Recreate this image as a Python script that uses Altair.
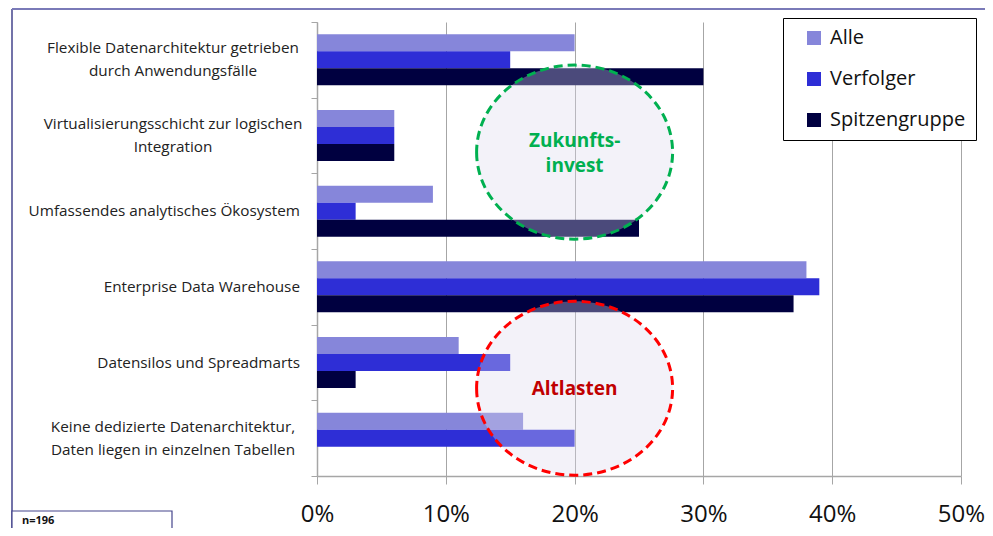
import altair as alt
import pandas as pd

# ---------------- data ----------------
categories = [
    "Flexible Datenarchitektur getrieben\ndurch Anwendungsfälle",
    "Virtualisierungsschicht zur logischen\nIntegration",
    "Umfassendes analytisches Ökosystem",
    "Enterprise Data Warehouse",
    "Datensilos und Spreadmarts",
    "Keine dedizierte Datenarchitektur,\nDaten liegen in einzelnen Tabellen",
]
series = ["Alle", "Verfolger", "Spitzengruppe"]
alle = [0.20, 0.06, 0.09, 0.38, 0.11, 0.16]
verfolger = [0.15, 0.06, 0.03, 0.39, 0.15, 0.20]
spitzengruppe = [0.30, 0.06, 0.25, 0.37, 0.03, 0.00]
colors = ["#8686da", "#2e2ed6", "#000040"]
x_ticks = [0, 0.1, 0.2, 0.3, 0.4, 0.5]

annot_labels = ["Zukunfts-\ninvest", "Altlasten"]
annot_x = [0.20, 0.20]
annot_row = [1.72, 4.84]          # ellipse centre, in category rows from the top
annot_text_row = [1.57, 4.85]     # first text line, in category rows from the top
annot_stroke = ["#00b050", "#ff0000"]
annot_text = ["#00b050", "#c00000"]
n_label = "n=196"

rows = []
for s, vals in zip(series, [alle, verfolger, spitzengruppe]):
    for c, v in zip(categories, vals):
        rows.append({"category": c, "series": s, "value": v})
df = pd.DataFrame(rows)
cat_df = pd.DataFrame({"category": categories})
ann = pd.DataFrame({"label": annot_labels, "x": annot_x, "row": annot_row,
                    "trow": annot_text_row, "stroke": annot_stroke, "tcol": annot_text})
dummy = pd.DataFrame({"a": [0]})

W, H = 644, 454
FONT = "Open Sans"
GRAY = "#a6a6a6"
FRAME = "#45458c"
TWO_LINE = "indexof(datum.category, '\\n') >= 0"

x_enc = alt.X(
    "value:Q",
    title=None,
    scale=alt.Scale(domain=[0, 0.5], nice=False),
    axis=alt.Axis(values=x_ticks, format="%", grid=True, gridColor=GRAY, gridWidth=1,
                  domainColor=GRAY, domainWidth=1.5, tickColor=GRAY, tickSize=8,
                  labelFont=FONT, labelFontSize=24, labelColor="#111",
                  labelPadding=18, labelFlush=False),
)

bars = alt.Chart(df).mark_bar(opacity=1).encode(
    x=x_enc,
    y=alt.Y("category:N", sort=categories, title=None,
            scale=alt.Scale(domain=categories, paddingInner=0, paddingOuter=0),
            axis=alt.Axis(labels=False, tickSize=6, tickColor=GRAY,
                          domainColor=GRAY, domainWidth=1.5, tickBand="extent", grid=False)),
    yOffset=alt.YOffset("series:N", sort=series,
                        scale=alt.Scale(paddingInner=0, paddingOuter=0.726)),
    color=alt.Color("series:N", sort=series,
                    scale=alt.Scale(domain=series, range=colors),
                    legend=alt.Legend(title=None, orient="none", legendX=466, legendY=-4,
                                      direction="vertical", fillColor="white",
                                      strokeColor="black", padding=10,
                                      symbolType="square", symbolSize=196,
                                      symbolStrokeWidth=0, symbolOffset=11,
                                      labelFont=FONT, labelFontSize=20, labelColor="#111",
                                      labelOffset=6, rowPadding=21)),
)

# category labels: two-line labels centred (as in the reference), one-line labels right-aligned
cat_y = alt.Y("category:N", title=None, axis=None,
              scale=alt.Scale(type="point", domain=categories, padding=0.5))
labels_two = alt.Chart(cat_df).transform_filter(TWO_LINE).mark_text(
    font=FONT, fontSize=15.3, color="#222", lineBreak="\n", lineHeight=23,
    align="center", baseline="middle", dy=-11.5,
).encode(x=alt.value(-144), y=cat_y, text="category:N")
labels_one = alt.Chart(cat_df).transform_filter("!(" + TWO_LINE + ")").mark_text(
    font=FONT, fontSize=15.3, color="#222", align="right", baseline="middle",
).encode(x=alt.value(-17), y=cat_y, text="category:N")

ELL = "M -1 0 A 1 0.888 0 1 0 1 0 A 1 0.888 0 1 0 -1 0 Z"
yscale = alt.Scale(domain=[0, 6], reverse=True, nice=False, zero=False)

ellipses = alt.Chart(ann).mark_point(
    shape=ELL, filled=True, fill="#dcd9ee", fillOpacity=0.34, opacity=1,
    strokeWidth=3, strokeDash=[9, 5], strokeOpacity=1, size=38416,
).encode(
    x=alt.X("x:Q", title=None),
    y=alt.Y("row:Q", scale=yscale, axis=None, title=None),
    stroke=alt.Stroke("stroke:N", scale=None),
)

texts = alt.Chart(ann).mark_text(
    font=FONT, fontWeight="bold", fontSize=19, lineBreak="\n", lineHeight=25,
    baseline="middle", align="center",
).encode(
    x=alt.X("x:Q", title=None),
    y=alt.Y("trow:Q", scale=yscale, axis=None, title=None),
    text="label:N",
    fill=alt.Fill("tcol:N", scale=None),
)

frame_left = alt.Chart(dummy).mark_rule(color=FRAME, strokeWidth=1.5).encode(
    x=alt.value(-305), y=alt.value(-13), y2=alt.value(520))
frame_top = alt.Chart(dummy).mark_rule(color="#7a7ab8", strokeWidth=2).encode(
    x=alt.value(-305), x2=alt.value(W + 24), y=alt.value(-13))
nbox = alt.Chart(dummy).mark_rect(fill="white", stroke=FRAME, strokeWidth=1.2).encode(
    x=alt.value(-305), x2=alt.value(-145), y=alt.value(489), y2=alt.value(530))
ntext = alt.Chart(dummy).mark_text(font=FONT, fontWeight="bold", fontSize=11,
                                   align="left", baseline="middle", color="#111").encode(
    x=alt.value(-295), y=alt.value(499), text=alt.value(n_label))

chart = alt.layer(bars, labels_two, labels_one, ellipses, texts,
                  frame_left, frame_top, nbox, ntext).resolve_scale(
    y="independent"
).properties(
    width=W, height=H,
    autosize=alt.AutoSizeParams(type="none"),
    padding={"left": 309, "top": 14, "right": 24, "bottom": 52},
).configure_view(stroke=None)

chart.save("out.html", embed_options={"renderer": "svg", "actions": False})
